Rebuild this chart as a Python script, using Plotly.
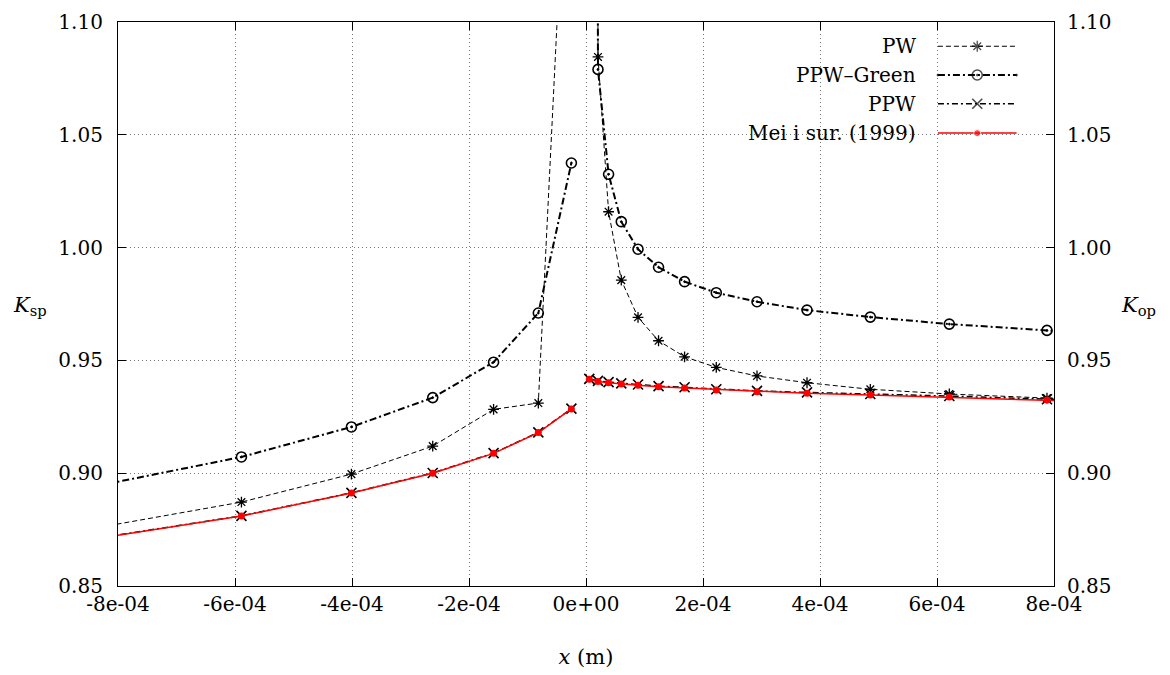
import plotly.graph_objects as go

# x positions (m), left and right of the origin
x_left = [-8.43e-4, -5.89e-4, -4.01e-4, -2.62e-4, -1.58e-4, -0.815e-4, -0.25e-4]
x_right = [0.056e-4, 0.205e-4, 0.386e-4, 0.603e-4, 0.889e-4, 1.24e-4, 1.685e-4,
           2.227e-4, 2.923e-4, 3.778e-4, 4.86e-4, 6.21e-4, 7.88e-4, 9.98e-4]

pw_left = [0.8755, 0.8872, 0.8996, 0.912, 0.9283, 0.9311, 1.229]
pw_right = [3.0, 1.0845, 1.0159, 0.9856, 0.9691, 0.9587, 0.9516,
            0.9469, 0.9431, 0.9401, 0.9372, 0.9351, 0.9333, 0.931]

green_left = [0.894, 0.9072, 0.9205, 0.9335, 0.9492, 0.971, 1.0375]
green_right = [2.5, 1.079, 1.0325, 1.0115, 0.9993, 0.9913, 0.9849,
               0.98, 0.976, 0.9723, 0.9692, 0.9661, 0.9633, 0.9598]

ppw_left = [0.8709, 0.8811, 0.8913, 0.9001, 0.9089, 0.9181, 0.9286]
ppw_right = [0.9418, 0.9409, 0.9404, 0.9398, 0.9393, 0.9386, 0.9381,
             0.9372, 0.9365, 0.9358, 0.9351, 0.9342, 0.9328, 0.931]

mei_left = [0.8708, 0.881, 0.8912, 0.900, 0.9088, 0.918, 0.9285]
mei_right = [0.9416, 0.9406, 0.9401, 0.9395, 0.939, 0.9383, 0.9378,
             0.9369, 0.9361, 0.9354, 0.9347, 0.9338, 0.9324, 0.9306]

names = ["PW", "PPW\u2013Green", "PPW", "Mei i sur. (1999)"]

x_ticks = [-8e-4, -6e-4, -4e-4, -2e-4, 0, 2e-4, 4e-4, 6e-4, 8e-4]
x_tick_text = ["-8e-04", "-6e-04", "-4e-04", "-2e-04", "0e+00", "2e-04", "4e-04", "6e-04", "8e-04"]
y_ticks = [0.85, 0.90, 0.95, 1.00, 1.05, 1.10]
y_tick_text = ["0.85", "0.90", "0.95", "1.00", "1.05", "1.10"]

FONT = "DejaVu Serif"
FS = 20

styles = [
    dict(line=dict(color="black", width=1, dash="5px,3px"),
         marker=dict(symbol="asterisk-open", size=9, color="black", line=dict(width=1.3, color="black"))),
    dict(line=dict(color="black", width=2, dash="7px,3px,2px,3px"),
         marker=dict(symbol="circle-open-dot", size=10, color="black", line=dict(width=1.6, color="black"))),
    dict(line=dict(color="black", width=1.5, dash="6px,3px,2px,3px"),
         marker=dict(symbol="x-thin-open", size=10, color="black", line=dict(width=1.6, color="black"))),
    dict(line=dict(color="#ff0000", width=1.5),
         marker=dict(symbol="circle", size=7, color="#ff0000")),
]

series = [(pw_left, pw_right), (green_left, green_right),
          (ppw_left, ppw_right), (mei_left, mei_right)]

xs = x_left + [None] + x_right

fig = go.Figure()
for (yl, yr), st, nm in zip(series, styles, names):
    fig.add_trace(go.Scatter(x=xs, y=yl + [None] + yr, mode="lines+markers",
                             line=st["line"], marker=st["marker"], name=nm,
                             connectgaps=False, showlegend=False, cliponaxis=True))

# legend samples drawn on an overlay axis (0..1 over the plot area)
leg_y = [0.957, 0.906, 0.855, 0.803]
for st, ly in zip(styles, leg_y):
    m = dict(st["marker"])
    m["size"] = [0, m["size"], 0]
    fig.add_trace(go.Scatter(x=[0.876, 0.918, 0.96], y=[ly] * 3, mode="lines+markers",
                             line=st["line"], marker=m, xaxis="x2", yaxis="y3",
                             showlegend=False, hoverinfo="skip"))

# right axis carrier
fig.add_trace(go.Scatter(x=[-8e-4], y=[0.85], yaxis="y2", mode="markers",
                         marker=dict(size=1, opacity=0), showlegend=False, hoverinfo="skip"))

annotations = []
for nm, ly in zip(names, leg_y):
    annotations.append(dict(text=nm, xref="paper", yref="paper", x=0.855, y=ly,
                            xanchor="right", yanchor="middle", showarrow=False,
                            font=dict(family=FONT, size=FS, color="black")))
annotations.append(dict(text="<i>K</i><sub>sp</sub>", xref="paper", yref="paper",
                        x=-0.094, y=0.497, xanchor="center", yanchor="middle", showarrow=False,
                        font=dict(family=FONT, size=21, color="black")))
annotations.append(dict(text="<i>K</i><sub>op</sub>", xref="paper", yref="paper",
                        x=1.09, y=0.497, xanchor="center", yanchor="middle", showarrow=False,
                        font=dict(family=FONT, size=21, color="black")))

axis_common = dict(showline=True, linecolor="black", linewidth=1.2, ticks="inside",
                   ticklen=8, tickcolor="black", gridcolor="#777777", griddash="1px,3px",
                   gridwidth=1, zeroline=False, automargin=False,
                   tickfont=dict(family=FONT, size=FS, color="black"))

# page body adds an 8px offset, so margins are shifted to land the frame at 118..1054 / 22..586
fig.update_layout(
    width=1170, height=675,
    margin=dict(l=110, r=124, t=14, b=97, autoexpand=False),
    plot_bgcolor="white", paper_bgcolor="white",
    font=dict(family=FONT, size=FS, color="black"),
    xaxis=dict(range=[-8e-4, 8e-4], tickvals=x_ticks, ticktext=x_tick_text, mirror="ticks",
               showgrid=True, title=dict(text="<i>x</i> (m)", standoff=34,
                                         font=dict(family=FONT, size=21)), **axis_common),
    yaxis=dict(range=[0.85, 1.10], tickvals=y_ticks, ticktext=y_tick_text, mirror="ticks",
               showgrid=True, ticklabelstandoff=10, **axis_common),
    yaxis2=dict(range=[0.85, 1.10], tickvals=y_ticks, ticktext=y_tick_text, overlaying="y",
                side="right", showgrid=False, showline=False, ticks="", zeroline=False,
                automargin=False, ticklabelstandoff=12,
                tickfont=dict(family=FONT, size=FS, color="black")),
    xaxis2=dict(range=[0, 1], overlaying="x", visible=False, anchor="y3"),
    yaxis3=dict(range=[0, 1], overlaying="y", visible=False, anchor="x2"),
    shapes=[dict(type="rect", xref="paper", yref="paper", x0=0.542, x1=0.975, y0=0.762, y1=0.998,
                 fillcolor="white", line=dict(width=0), layer="between")],
    annotations=annotations,
    showlegend=False,
)

fig.write_html("out.html")
